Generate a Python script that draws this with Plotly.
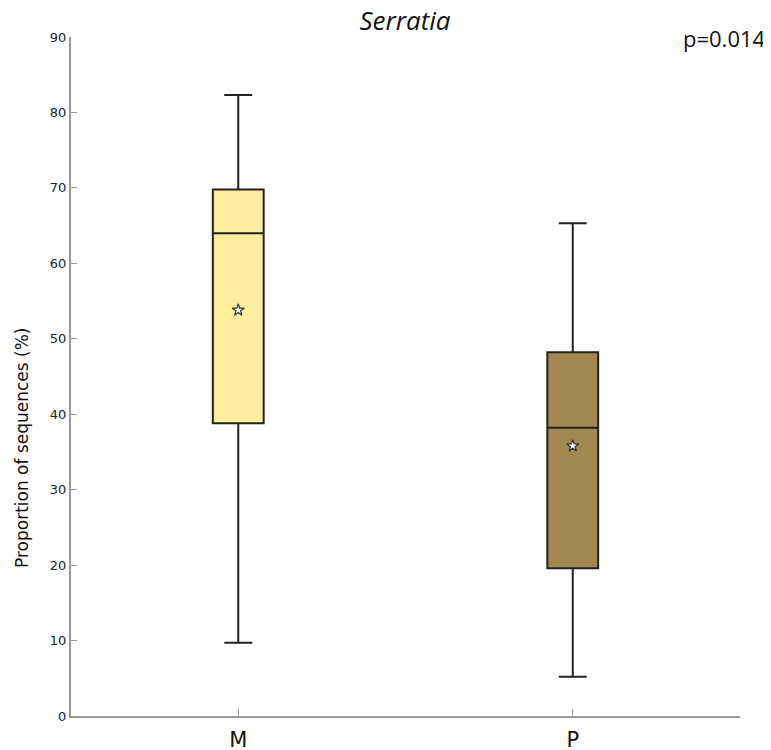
import plotly.graph_objects as go

groups = ["M", "P"]
lower = [9.7, 5.2]
q1 = [38.8, 19.6]
median = [64.0, 38.2]
q3 = [69.8, 48.2]
upper = [82.3, 65.3]
means = [53.8, 35.8]
fills = ["#FFEE9E", "#A08850"]

# page is rendered with an 8px body margin, so the figure is sized/positioned to compensate
W, H = 763, 742
L, R, T, B = 63, 31, 29, 34
PW, PH = W - L - R, H - T - B

fig = go.Figure()
for i, g in enumerate(groups):
    fig.add_trace(go.Box(
        x=[g], q1=[q1[i]], median=[median[i]], q3=[q3[i]],
        lowerfence=[lower[i]], upperfence=[upper[i]],
        fillcolor=fills[i], line=dict(color="#222222", width=2),
        width=0.152, whiskerwidth=0.55, boxpoints=False,
        hoverinfo="skip", showlegend=False,
    ))
fig.add_trace(go.Scatter(
    x=groups, y=means, mode="markers",
    marker=dict(symbol="star", size=9, color="white",
                line=dict(color="#333333", width=1.2)),
    showlegend=False, hoverinfo="skip",
))

fig.update_layout(
    width=W, height=H,
    margin=dict(l=L, r=R, t=T, b=B, autoexpand=False),
    plot_bgcolor="white", paper_bgcolor="white",
    font=dict(family="DejaVu Sans, sans-serif", color="#222222"),
    title=dict(text="<i>Serratia</i>", x=397 / W, xanchor="center",
               y=1 - 13 / H, yanchor="middle",
               font=dict(size=26, family="Open Sans", color="#111111")),
    annotations=[
        dict(text="p=0.014", xref="paper", yref="paper",
             x=1 + 28 / PW, xanchor="right", y=1 - 1 / PH, yanchor="middle",
             showarrow=False, font=dict(size=22, family="Open Sans", color="#111111")),
        dict(text="Proportion of sequences (%)", xref="paper", yref="paper",
             x=(14 - L) / PW, xanchor="center", y=(716 - 448) / PH, yanchor="middle",
             textangle=-90, showarrow=False,
             font=dict(size=17, family="DejaVu Sans", color="#111111")),
    ],
    xaxis=dict(range=[-0.5, 1.5], showline=True, linecolor="#999999", linewidth=2,
               ticks="inside", ticklen=7, tickcolor="#999999", automargin=False,
               ticklabelstandoff=4,
               tickfont=dict(size=21, color="#111111"), showgrid=False, zeroline=False),
    yaxis=dict(range=[0, 90], showline=True, linecolor="#999999", linewidth=2,
               ticks="inside", ticklen=6, tickcolor="#999999", dtick=10, automargin=False,
               tickfont=dict(size=13, color="#222222"), showgrid=False, zeroline=False),
)
fig.write_html("out.html")
